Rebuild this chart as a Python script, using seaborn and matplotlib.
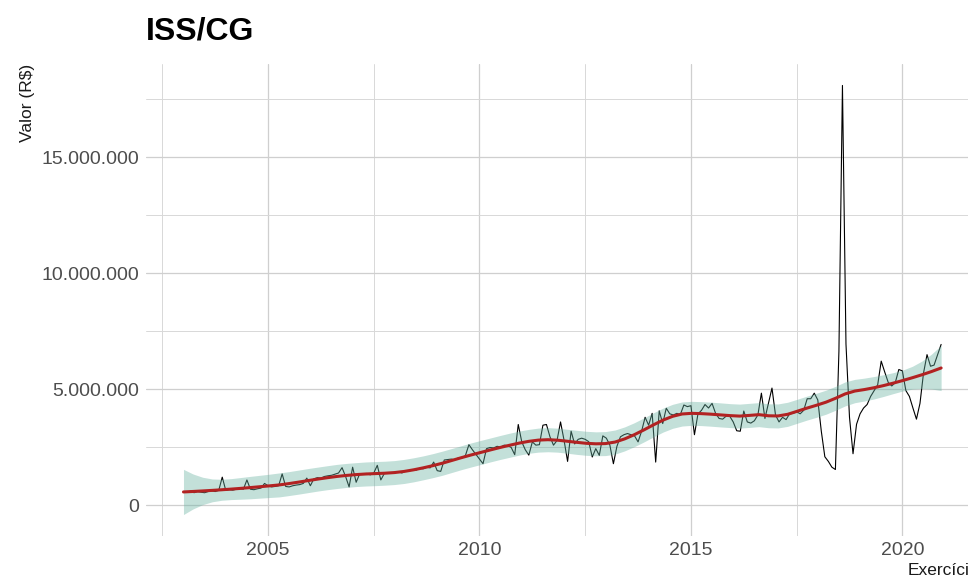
import numpy as np
import pandas as pd
import matplotlib
matplotlib.use("Agg")
import matplotlib.pyplot as plt
import seaborn as sns
from matplotlib.ticker import FuncFormatter, MultipleLocator

# ---- data: monthly ISS revenue (R$ millions), Jan 2003 .. Dec 2020 ----
start_year = 2003
v2003 = [0.60, 0.58, 0.62, 0.55, 0.60, 0.57, 0.55, 0.60, 0.63, 0.60, 0.65, 1.22]
v2004 = [0.65, 0.68, 0.66, 0.70, 0.72, 0.70, 1.10, 0.70, 0.68, 0.72, 0.75, 0.95]
v2005 = [0.85, 0.80, 0.82, 0.85, 1.36, 0.82, 0.80, 0.85, 0.88, 0.90, 0.95, 1.18]
v2006 = [0.85, 1.15, 1.20, 1.18, 1.25, 1.28, 1.30, 1.35, 1.40, 1.63, 1.25, 0.80]
v2007 = [1.65, 1.00, 1.36, 1.35, 1.38, 1.32, 1.40, 1.73, 1.10, 1.38, 1.42, 1.40]
v2008 = [1.42, 1.45, 1.40, 1.50, 1.48, 1.55, 1.52, 1.60, 1.58, 1.65, 1.62, 1.87]
v2009 = [1.50, 1.47, 1.96, 1.98, 2.00, 1.97, 2.05, 2.05, 2.15, 2.62, 2.40, 2.20]
v2010 = [2.00, 1.80, 2.45, 2.50, 2.48, 2.55, 2.52, 2.60, 2.58, 2.50, 2.19, 3.49]
v2011 = [2.74, 2.40, 2.17, 2.74, 2.60, 2.62, 3.46, 3.49, 2.96, 2.60, 2.80, 3.60]
v2012 = [2.81, 1.90, 3.20, 2.65, 2.85, 2.90, 2.85, 2.75, 2.09, 2.45, 2.16, 3.00]
v2013 = [2.90, 2.60, 1.80, 2.55, 2.96, 3.05, 3.10, 3.05, 3.00, 2.74, 3.20, 3.80]
v2014 = [3.46, 3.97, 1.87, 4.08, 3.53, 4.19, 3.95, 3.90, 3.97, 3.92, 4.33, 4.26]
v2015 = [4.30, 3.05, 3.95, 4.10, 4.35, 4.20, 4.40, 3.97, 3.75, 3.72, 3.85, 3.85]
v2016 = [3.60, 3.22, 3.20, 4.07, 3.60, 3.55, 3.65, 3.90, 4.84, 3.75, 4.40, 5.06]
v2017 = [3.90, 3.60, 3.80, 3.70, 3.95, 3.97, 4.04, 3.95, 4.10, 4.60, 4.60, 4.84]
v2018 = [4.55, 3.20, 2.10, 1.90, 1.65, 1.55, 6.65, 18.10, 6.96, 3.80, 2.23, 3.50]
v2019 = [3.95, 4.20, 4.35, 4.70, 4.95, 5.20, 6.22, 5.75, 5.30, 5.15, 5.30, 5.86]
v2020 = [5.80, 4.95, 4.70, 4.20, 3.72, 4.40, 5.70, 6.50, 6.00, 6.05, 6.50, 6.94]

title_text = "ISS/CG"
y_label = "Valor (R$)"
x_label = "Exercício"

values = np.concatenate([v2003, v2004, v2005, v2006, v2007, v2008, v2009,
                         v2010, v2011, v2012, v2013, v2014, v2015, v2016,
                         v2017, v2018, v2019, v2020]) * 1e6
t = start_year + np.arange(len(values)) / 12.0
df = pd.DataFrame({"Exercicio": t, "Valor": values})


# ---- loess smoother (local quadratic, tricube weights), like geom_smooth ----
def loess(x, y, x_eval, span):
    n = len(x)
    q = int(np.floor(span * n))

    def row(x0):
        d = np.abs(x - x0)
        h = np.sort(d)[q - 1]
        u = np.clip(d / h, 0, 1)
        w = (1 - u ** 3) ** 3
        X = np.column_stack([np.ones(n), x - x0, (x - x0) ** 2])
        XtW = X.T * w
        return np.linalg.solve(XtW @ X, XtW)[0]

    L = np.array([row(x0) for x0 in x])
    resid = y - L @ y
    M = np.eye(n) - L
    delta1 = np.trace(M.T @ M)
    sigma = np.sqrt(np.sum(resid ** 2) / delta1)
    Le = np.array([row(x0) for x0 in x_eval])
    fit = Le @ y
    se = sigma * np.sqrt(np.sum(Le ** 2, axis=1))
    return fit, se


grid = np.linspace(t.min(), t.max(), 80)
fit, se = loess(t, values, grid, span=0.25)
lo, hi = fit - 1.97 * se, fit + 1.97 * se

# ---- figure ----
sns.set_theme(style="white")
plt.rcParams["font.family"] = ["Liberation Sans", "DejaVu Sans"]

W, H = 968, 583
fig = plt.figure(figsize=(W / 100, H / 100), dpi=100)
left_px, right_px, top_px, bottom_px = 145.6, 979, 64, 536
ax = fig.add_axes([left_px / W, (H - bottom_px) / H,
                   (right_px - left_px) / W, (bottom_px - top_px) / H])
ax.set_facecolor("white")

sns.lineplot(data=df, x="Exercicio", y="Valor", color="black",
             linewidth=0.8, ax=ax, zorder=3)
ax.fill_between(grid, lo, hi, color="#69b3a2", alpha=0.4, linewidth=0, zorder=4)
sns.lineplot(x=grid, y=fit, color="#b22222", linewidth=2.2, ax=ax, zorder=5)

# ggplot-like 5% expansion
xr = t.max() - t.min()
ax.set_xlim(t.min() - 0.05 * xr, t.max() + 0.05 * xr)
ymin = min(values.min(), lo.min())
ymax = max(values.max(), hi.max())
yr = ymax - ymin
ax.set_ylim(ymin - 0.05 * yr, ymax + 0.05 * yr)

ax.xaxis.set_major_locator(MultipleLocator(5))
ax.xaxis.set_minor_locator(MultipleLocator(2.5))
ax.yaxis.set_major_locator(MultipleLocator(5e6))
ax.yaxis.set_minor_locator(MultipleLocator(2.5e6))
ax.xaxis.set_major_formatter(FuncFormatter(lambda v, p: f"{v:.0f}"))
ax.yaxis.set_major_formatter(
    FuncFormatter(lambda v, p: f"{v:,.0f}".replace(",", ".")))

ax.grid(which="major", color="#cfcfcf", linewidth=0.9, zorder=0)
ax.grid(which="minor", color="#d8d8d8", linewidth=0.7, zorder=0)
ax.set_axisbelow(True)
for s in ax.spines.values():
    s.set_visible(False)
ax.tick_params(which="both", length=0)
ax.tick_params(axis="both", labelsize=14, labelcolor="#4d4d4d", pad=4.4)

ax.set_ylabel(y_label, loc="top", fontsize=12.5, color="#1a1a1a", labelpad=5)
ax.set_xlabel(x_label, loc="right", fontsize=12.5, color="#1a1a1a", labelpad=3)

fig.text(146 / W, 1 - 39 / H, title_text, ha="left", va="baseline",
         fontsize=23, fontweight="bold", color="black")

fig.savefig("out.png", dpi=100)
